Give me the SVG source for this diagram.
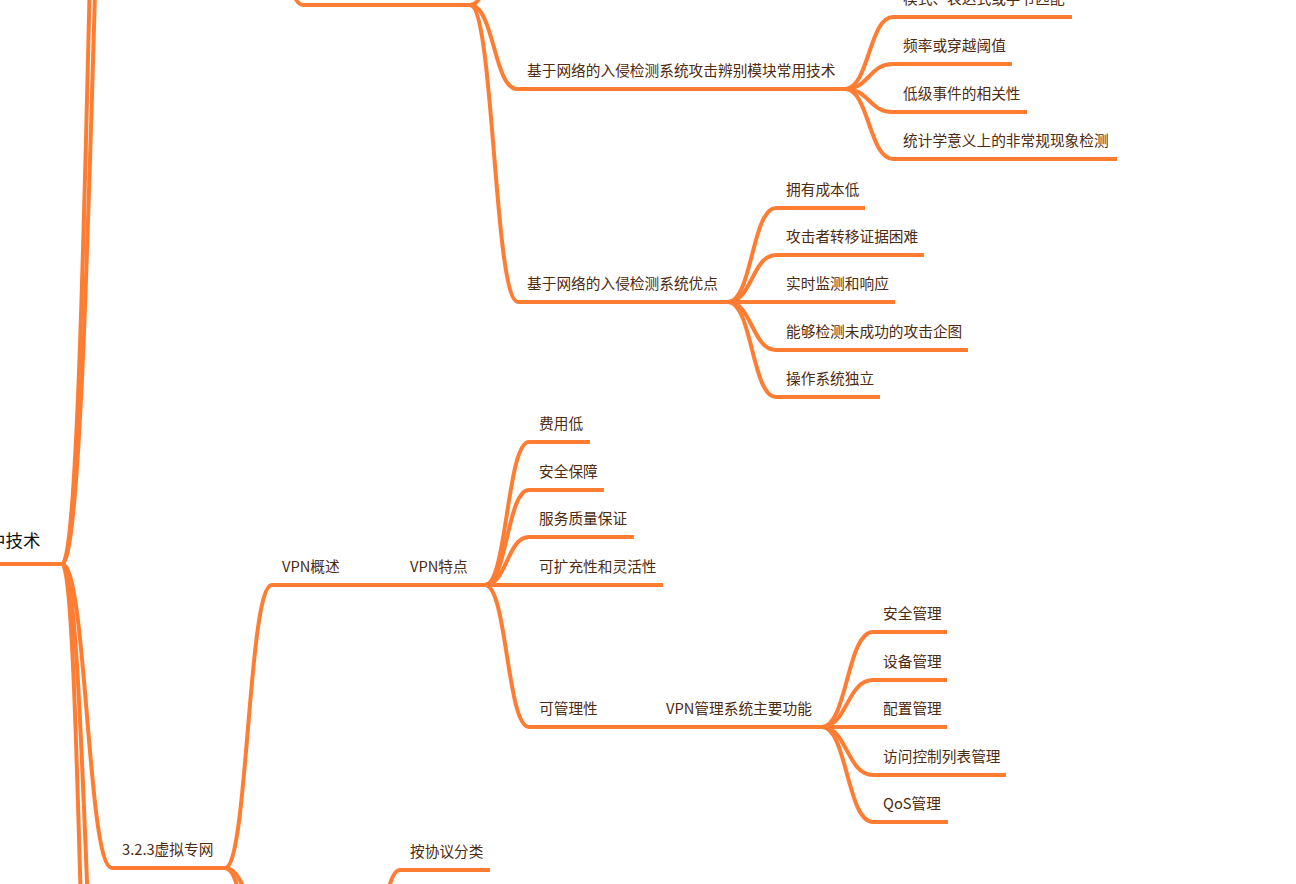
<svg xmlns="http://www.w3.org/2000/svg" width="1296" height="884" viewBox="0 0 1296 884">
<style>
.ln{fill:none;stroke:#ff7d33;stroke-width:4;stroke-linecap:butt}
.t{font-family:"Noto Sans CJK SC","Noto Sans",sans-serif;font-size:14.7px;fill:#4e2a10}
.rt{font-family:"Noto Sans CJK SC","Noto Sans",sans-serif;font-size:17.5px;fill:#111}
</style>
<rect width="1296" height="884" fill="#fff"/>
<g id="connectors" class="ln">
<path d="M62 564 C91 564 91 -700 120 -700"/>
<path d="M62 564 C96 564 96 -650 130 -650"/>
<path d="M62 564 C87 564 87 868 112 868"/>
<path d="M62 564 C81 564 81 1250 100 1250"/>
<path d="M62 564 C87 564 87 1200 112 1200"/>
<path d="M250 -200 C276 -200 276 5 303 5"/>
<path d="M470 5 C492 5 492 -80 515 -80"/>
<path d="M470 5 C494 5 494 89 517 89"/>
<path d="M470 5 C494 5 494 302 518 302"/>
<path d="M845 89 C869 89 869 17 893 17"/>
<path d="M845 89 C869 89 869 64 893 64"/>
<path d="M845 89 C869 89 869 112 893 112"/>
<path d="M845 89 C869 89 869 159 893 159"/>
<path d="M728 302 C752 302 752 208 776 208"/>
<path d="M728 302 C752 302 752 255 776 255"/>
<path d="M728 302 L776 302"/>
<path d="M728 302 C752 302 752 350 776 350"/>
<path d="M728 302 C752 302 752 397 776 397"/>
<path d="M225 868 C248 868 248 585 272 585"/>
<path d="M225 868 C252 868 252 960 280 960"/>
<path d="M225 868 C250 868 250 1050 275 1050"/>
<path d="M485 585 C507 585 507 442 529 442"/>
<path d="M485 585 C507 585 507 490 529 490"/>
<path d="M485 585 C507 585 507 537 529 537"/>
<path d="M485 585 L529 585"/>
<path d="M485 585 C507 585 507 727 529 727"/>
<path d="M822 727 C847 727 847 632 873 632"/>
<path d="M822 727 C847 727 847 680 873 680"/>
<path d="M822 727 L873 727"/>
<path d="M822 727 C847 727 847 775 873 775"/>
<path d="M822 727 C847 727 847 822 873 822"/>
<path d="M360 1000 C380 1000 380 870 400 870"/>
</g>
<g id="root"><text class="rt" x="-12" y="547">中技术</text><path class="ln" d="M-10 564 L62 564"/></g>
<g id="n-top"><path class="ln" d="M303 5 L470 5"/></g>
<g id="n-atk"><text class="t" x="527" y="75.5">基于网络的入侵检测系统攻击辨别模块常用技术</text><path class="ln" d="M517 89 L845 89"/></g>
<g id="n-atk1"><text class="t" x="903" y="3.5">模式、表达式或字节匹配</text><path class="ln" d="M893 17 L1072 17"/></g>
<g id="n-atk2"><text class="t" x="903" y="50.5">频率或穿越阈值</text><path class="ln" d="M893 64 L1012 64"/></g>
<g id="n-atk3"><text class="t" x="903" y="98.5">低级事件的相关性</text><path class="ln" d="M893 112 L1027 112"/></g>
<g id="n-atk4"><text class="t" x="903" y="145.5">统计学意义上的非常规现象检测</text><path class="ln" d="M893 159 L1117 159"/></g>
<g id="n-adv"><text class="t" x="527" y="288.5">基于网络的入侵检测系统优点</text><path class="ln" d="M518 302 L728 302"/></g>
<g id="n-adv1"><text class="t" x="786" y="194.5">拥有成本低</text><path class="ln" d="M776 208 L865 208"/></g>
<g id="n-adv2"><text class="t" x="786" y="241.5">攻击者转移证据困难</text><path class="ln" d="M776 255 L924 255"/></g>
<g id="n-adv3"><text class="t" x="786" y="288.5">实时监测和响应</text><path class="ln" d="M776 302 L895 302"/></g>
<g id="n-adv4"><text class="t" x="786" y="336.5">能够检测未成功的攻击企图</text><path class="ln" d="M776 350 L968 350"/></g>
<g id="n-adv5"><text class="t" x="786" y="383.5">操作系统独立</text><path class="ln" d="M776 397 L880 397"/></g>
<g id="n-vpn"><text class="t" x="122" y="854.5">3.2.3虚拟专网</text><path class="ln" d="M112 868 L225 868"/></g>
<g id="n-overview"><text class="t" x="282" y="571.5">VPN概述</text><path class="ln" d="M272 585 L405 585"/></g>
<g id="n-feat"><text class="t" x="410" y="571.5">VPN特点</text><path class="ln" d="M405 585 L485 585"/></g>
<g id="n-f1"><text class="t" x="539" y="428.5">费用低</text><path class="ln" d="M529 442 L590 442"/></g>
<g id="n-f2"><text class="t" x="539" y="476.5">安全保障</text><path class="ln" d="M529 490 L604 490"/></g>
<g id="n-f3"><text class="t" x="539" y="523.5">服务质量保证</text><path class="ln" d="M529 537 L634 537"/></g>
<g id="n-f4"><text class="t" x="539" y="571.5">可扩充性和灵活性</text><path class="ln" d="M529 585 L663 585"/></g>
<g id="n-f5"><text class="t" x="539" y="713.5">可管理性</text><path class="ln" d="M529 727 L605 727"/></g>
<g id="n-mgmt"><text class="t" x="666" y="713.5">VPN管理系统主要功能</text><path class="ln" d="M605 727 L822 727"/></g>
<g id="n-m1"><text class="t" x="883" y="618.5">安全管理</text><path class="ln" d="M873 632 L947 632"/></g>
<g id="n-m2"><text class="t" x="883" y="666.5">设备管理</text><path class="ln" d="M873 680 L947 680"/></g>
<g id="n-m3"><text class="t" x="883" y="713.5">配置管理</text><path class="ln" d="M873 727 L947 727"/></g>
<g id="n-m4"><text class="t" x="883" y="761.5">访问控制列表管理</text><path class="ln" d="M873 775 L1006 775"/></g>
<g id="n-m5"><text class="t" x="883" y="808.5">QoS管理</text><path class="ln" d="M873 822 L948 822"/></g>
<g id="n-proto"><text class="t" x="410" y="856.5">按协议分类</text><path class="ln" d="M400 870 L490 870"/></g>
</svg>
